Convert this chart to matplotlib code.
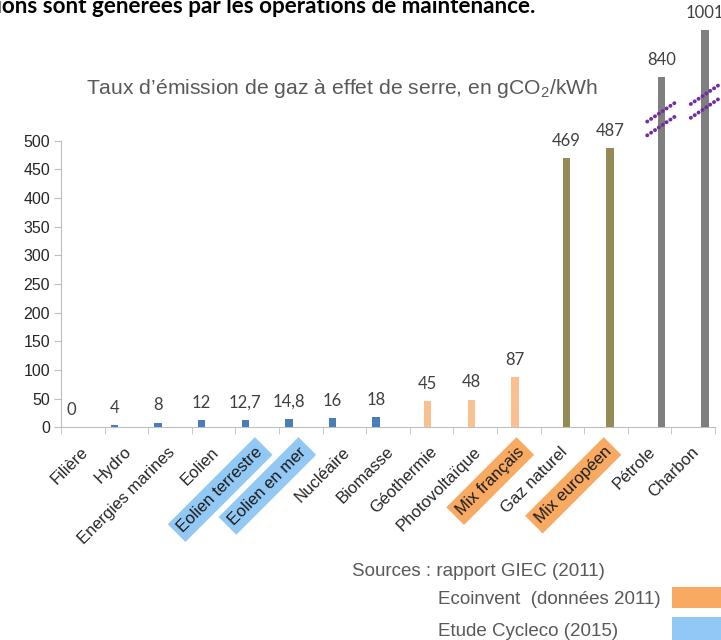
import matplotlib
matplotlib.use("Agg")
import matplotlib.pyplot as plt
import matplotlib.transforms as mtransforms
from matplotlib.patches import Rectangle

# ---- data ---------------------------------------------------------------
CATEGORIES = [
    "Filière", "Hydro", "Energies marines", "Eolien", "Eolien terrestre",
    "Eolien en mer", "Nucléaire", "Biomasse", "Géothermie", "Photovoltaïque",
    "Mix français", "Gaz naturel", "Mix européen", "Pétrole", "Charbon",
]
VALUES = [0, 4, 8, 12, 12.7, 14.8, 16, 18, 45, 48, 87, 469, 487, 840, 1001]
VALUE_LABELS = ["0", "4", "8", "12", "12,7", "14,8", "16", "18",
                "45", "48", "87", "469", "487", "840", "1001"]
# which series (colour slot) each category belongs to
SERIES = [0, 0, 0, 0, 0, 0, 0, 0, 1, 1, 1, 2, 2, 3, 3]
HIGHLIGHTED = {"Eolien terrestre": "cycleco", "Eolien en mer": "cycleco",
               "Mix français": "ecoinvent", "Mix européen": "ecoinvent"}
Y_TICKS = [0, 50, 100, 150, 200, 250, 300, 350, 400, 450, 500]

SERIES_COLORS = ["#4a7ebb", "#fac08f", "#948a54", "#7f7f7f"]
SOURCE_COLORS = {"ecoinvent": "#f9aa62", "cycleco": "#92c8f4"}
BREAK_COLOR = "#7030a0"
TEXT_GREY = "#595959"
AXIS_GREY = "#bfbfbf"

AXIS_MAX = 500
# bars above the axis max are drawn on a compressed scale (broken axis)
BREAK_BASE, BREAK_SCALE = 183.0, 0.509
SLOT = 0.183
BAR_W = 0.17

plt.rcParams["font.family"] = "sans-serif"
plt.rcParams["font.sans-serif"] = ["Liberation Sans"]
plt.rcParams["mathtext.fontset"] = "custom"
plt.rcParams["mathtext.rm"] = "Liberation Sans"
plt.rcParams["mathtext.it"] = "Liberation Sans"


def shown_height(v):
    if v > AXIS_MAX:
        return BREAK_BASE + BREAK_SCALE * v
    return v


fig = plt.figure(figsize=(7.21, 6.40), dpi=100)
ax = fig.add_axes([61 / 721, 212.7 / 640, 654 / 721, 427.3 / 640])
ax.set_xlim(-0.5, len(CATEGORIES) - 0.5)
ax.set_ylim(0, 745)

xs = [i + (s - 1.5) * SLOT for i, s in enumerate(SERIES)]
heights = [shown_height(v) for v in VALUES]
colors = [SERIES_COLORS[s] for s in SERIES]
ax.bar(xs, heights, width=BAR_W, color=colors, zorder=3)

for x, h, lab in zip(xs, heights, VALUE_LABELS):
    ax.annotate(lab, (x, h), xytext=(0, 12.5), textcoords="offset points",
                ha="center", va="center", fontsize=12, color="#404040",
                family="Lato", clip_on=False)

# break marks on the truncated bars
for x, v in zip(xs, VALUES):
    if v <= AXIS_MAX:
        continue
    centre = 538 + (v - 840) * 0.19
    for dy in (12, -12):
        ax.plot([x - 0.33, x + 0.33], [centre + dy - 17, centre + dy + 17],
                color=BREAK_COLOR, linestyle=(0, (0.05, 1.15)), linewidth=2.8,
                dash_capstyle="round", zorder=4, clip_on=False)

# spines / ticks
for side in ("top", "right"):
    ax.spines[side].set_visible(False)
ax.spines["left"].set_bounds(0, AXIS_MAX)
ax.spines["left"].set_color(AXIS_GREY)
ax.spines["bottom"].set_color(AXIS_GREY)
ax.spines["left"].set_zorder(2)
ax.set_yticks(Y_TICKS)
ax.set_yticklabels([str(t) for t in Y_TICKS])
ax.tick_params(axis="y", length=5, color=AXIS_GREY, labelsize=11.5,
               labelcolor="#262626", pad=3)

ax.set_xticks([i - 0.5 for i in range(len(CATEGORIES) + 1)], minor=True)
ax.tick_params(axis="x", which="minor", length=5, color=AXIS_GREY)
ax.set_xticks(range(len(CATEGORIES)))
ax.set_xticklabels(CATEGORIES)
ax.tick_params(axis="x", which="major", length=0, pad=16, labelsize=12,
               labelcolor="#262626")
shift = mtransforms.ScaledTranslation(3 / 100, 0, fig.dpi_scale_trans)
for tl, cat in zip(ax.get_xticklabels(), CATEGORIES):
    tl.set_rotation(45)
    tl.set_ha("right")
    tl.set_va("center")
    tl.set_rotation_mode("anchor")
    tl.set_transform(tl.get_transform() + shift)
    if cat in HIGHLIGHTED:
        tl.set_color("#1a1a1a")
        tl.set_bbox(dict(boxstyle="square,pad=0.3",
                         fc=SOURCE_COLORS[HIGHLIGHTED[cat]], ec="none"))

# titles and notes
fig.text(342 / 721, 1 - 89 / 640,
         "Taux d\u2019émission de gaz à effet de serre, en gCO$_2$/kWh",
         ha="center", va="center", fontsize=15.2, color=TEXT_GREY)
fig.text(535 / 721, 1 - 13 / 640,
         "Les émissions sont générées par les opérations de maintenance.",
         ha="right", va="baseline", fontsize=16.2, fontweight="bold",
         color="black", family="Lato")

fig.text(352 / 721, 1 - 571 / 640, "Sources : rapport GIEC (2011)",
         ha="left", va="center", fontsize=13.5, color=TEXT_GREY)
fig.text(438 / 721, 1 - 599 / 640, "Ecoinvent  (données 2011)",
         ha="left", va="center", fontsize=13.5, color=TEXT_GREY)
fig.text(438 / 721, 1 - 631 / 640, "Etude Cycleco (2015)",
         ha="left", va="center", fontsize=13.5, color=TEXT_GREY)
fig.patches.append(Rectangle((672 / 721, 1 - 608 / 640), 60 / 721, 21 / 640,
                             transform=fig.transFigure,
                             fc=SOURCE_COLORS["ecoinvent"], ec="none"))
fig.patches.append(Rectangle((672 / 721, 0), 60 / 721, 23 / 640,
                             transform=fig.transFigure,
                             fc=SOURCE_COLORS["cycleco"], ec="none"))

fig.savefig("out.png", dpi=100)
